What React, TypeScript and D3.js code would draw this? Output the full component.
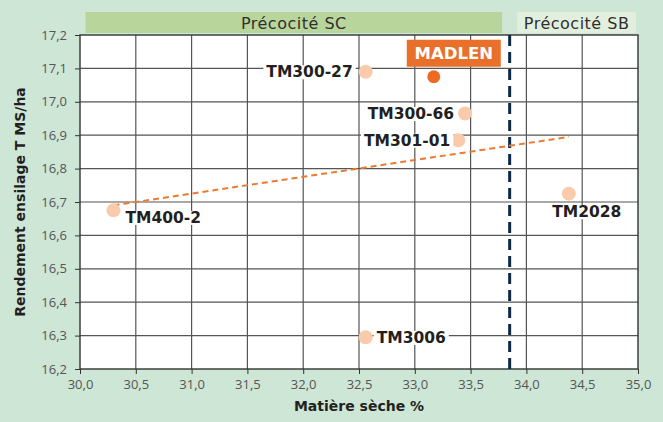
// Scatter of silage yield vs dry matter, with earliness bands and a trend line.
import { useEffect, useRef } from "react";
import * as d3 from "d3";

const varieties = ["TM300-27", "MADLEN", "TM300-66", "TM301-01", "TM400-2", "TM2028", "TM3006"];
const dryMatter = [32.56, 33.17, 33.45, 33.39, 30.3, 34.38, 32.56];
const yieldValues = [17.09, 17.075, 16.965, 16.885, 16.675, 16.725, 16.295];
const highlighted = ["MADLEN"];

const trendX = [30.3, 34.38];
const trendY = [16.69, 16.895];

const xTicks = [30.0, 30.5, 31.0, 31.5, 32.0, 32.5, 33.0, 33.5, 34.0, 34.5, 35.0];
const yTicks = [16.2, 16.3, 16.4, 16.5, 16.6, 16.7, 16.8, 16.9, 17.0, 17.1, 17.2];
const earlinessLimit = 33.85;
const bands = [
  { label: "Précocité SC", from: 30.05, to: 33.8 },
  { label: "Précocité SB", from: 33.9, to: 35.0 },
];

const W = 663;
const H = 422;
const FONT = "'Open Sans', 'DejaVu Sans', sans-serif";
const BOLD = "'DejaVu Sans', sans-serif";

export default function App() {
  const svgRef = useRef<SVGSVGElement>(null);

  useEffect(() => {
    const svg = d3.select(svgRef.current);
    svg.selectAll("*").remove();

    const x = d3.scaleLinear().domain([30, 35]).range([80, 638]);
    const y = d3.scaleLinear().domain([16.2, 17.2]).range([369, 35]);
    const fmt = (v: number) => v.toFixed(1).replace(".", ",");

    svg.append("rect").attr("width", W).attr("height", H).attr("fill", "#cde6d5");

    // earliness bands above the plot
    bands.forEach((b, i) => {
      const x0 = i === 0 ? x(b.from) : x(b.from) + 2;
      const x1 = x(b.to) - 2;
      svg.append("rect")
        .attr("x", x0).attr("y", 12).attr("width", x1 - x0).attr("height", 21)
        .attr("fill", i === 0 ? "#b8d59c" : "#e3efdd");
      svg.append("text")
        .attr("x", (x0 + x1) / 2).attr("y", 23).attr("dy", "0.35em")
        .attr("text-anchor", "middle").attr("font-family", BOLD).attr("font-size", 16)
        .attr("letter-spacing", 0.5).attr("fill", "#2f2f2f").text(b.label);
    });

    svg.append("rect")
      .attr("x", x(30)).attr("y", y(17.2))
      .attr("width", x(35) - x(30)).attr("height", y(16.2) - y(17.2))
      .attr("fill", "#fff");

    // grid
    const g = svg.append("g");
    g.selectAll(".gx").data(xTicks.slice(1, -1)).enter().append("line")
      .attr("x1", d => x(d)).attr("x2", d => x(d))
      .attr("y1", y(17.2)).attr("y2", y(16.2))
      .attr("stroke", "#555").attr("stroke-width", 1.2);
    g.selectAll(".gy").data(yTicks.slice(1, -1)).enter().append("line")
      .attr("x1", x(30)).attr("x2", x(35))
      .attr("y1", d => y(d)).attr("y2", d => y(d))
      .attr("stroke", "#555").attr("stroke-width", 1.2);
    g.append("rect")
      .attr("x", x(30)).attr("y", y(17.2))
      .attr("width", x(35) - x(30)).attr("height", y(16.2) - y(17.2))
      .attr("fill", "none").attr("stroke", "#333").attr("stroke-width", 1.4);

    // axes
    svg.append("g")
      .attr("transform", `translate(0,${y(16.2)})`)
      .call(d3.axisBottom(x).tickValues(xTicks).tickFormat(d => fmt(+d)).tickSize(5).tickPadding(6))
      .call(a => a.select(".domain").remove())
      .call(a => a.selectAll("line").attr("stroke", "#333"))
      .call(a => a.selectAll("text").attr("font-family", FONT).attr("font-size", 13).attr("fill", "#555"));
    svg.append("g")
      .attr("transform", `translate(${x(30)},0)`)
      .call(d3.axisLeft(y).tickValues(yTicks).tickFormat(d => fmt(+d)).tickSize(5).tickPadding(8))
      .call(a => a.select(".domain").remove())
      .call(a => a.selectAll("line").attr("stroke", "#333"))
      .call(a => a.selectAll("text").attr("font-family", FONT).attr("font-size", 13).attr("fill", "#555"));

    svg.append("text")
      .attr("x", (x(30) + x(35)) / 2).attr("y", 411)
      .attr("text-anchor", "middle").attr("font-family", BOLD).attr("font-weight", 700)
      .attr("font-size", 14).attr("fill", "#231f20").text("Matière sèche %");
    svg.append("text")
      .attr("transform", `translate(25,${(y(16.2) + y(17.2)) / 2}) rotate(-90)`)
      .attr("text-anchor", "middle").attr("font-family", BOLD).attr("font-weight", 700)
      .attr("font-size", 14).attr("fill", "#231f20").text("Rendement ensilage T MS/ha");

    // earliness limit
    svg.append("line")
      .attr("x1", x(earlinessLimit)).attr("x2", x(earlinessLimit))
      .attr("y1", y(17.2)).attr("y2", y(16.2))
      .attr("stroke", "#0d2a45").attr("stroke-width", 3)
      .attr("stroke-dasharray", "11,6");

    // trend line
    svg.append("line")
      .attr("x1", x(trendX[0])).attr("x2", x(trendX[1]))
      .attr("y1", y(trendY[0])).attr("y2", y(trendY[1]))
      .attr("stroke", "#ec7a30").attr("stroke-width", 2)
      .attr("stroke-dasharray", "6,4");

    const pts = varieties.map((name, i) => ({ name, dm: dryMatter[i], yv: yieldValues[i] }));

    svg.selectAll(".pt").data(pts).enter().append("circle")
      .attr("cx", d => x(d.dm)).attr("cy", d => y(d.yv)).attr("r", d => (highlighted.includes(d.name) ? 6.5 : 7))
      .attr("fill", d => (highlighted.includes(d.name) ? "#ec6a22" : "#f9cbab"));

    // labels: [dx, dy, anchor]
    const place: Record<string, [number, number, string]> = {
      "TM300-27": [-13, 0, "end"],
      "TM300-66": [-11, 0, "end"],
      "TM301-01": [-8, 0, "end"],
      "TM400-2": [12, 7, "start"],
      "TM2028": [18, 18, "middle"],
      "TM3006": [11, 0, "start"],
    };

    pts.forEach(d => {
      if (highlighted.includes(d.name)) {
        const cx = x(d.dm) + 20;
        const cy = y(d.yv) - 24;
        svg.append("rect").attr("x", cx - 47).attr("y", cy - 13).attr("width", 94).attr("height", 27)
          .attr("fill", "#e8702a");
        svg.append("text").attr("x", cx).attr("y", cy).attr("dy", "0.36em")
          .attr("text-anchor", "middle").attr("font-family", BOLD).attr("font-weight", 700)
          .attr("font-size", 16.5).attr("fill", "#fff").text(d.name);
        return;
      }
      const [dx, dy, anchor] = place[d.name];
      const t = svg.append("text")
        .attr("x", x(d.dm) + dx).attr("y", y(d.yv) + dy).attr("dy", "0.36em")
        .attr("text-anchor", anchor).attr("font-family", BOLD).attr("font-weight", 700)
        .attr("font-size", 15.5).attr("fill", "#231f20").text(d.name);
      const bb = (t.node() as SVGTextElement).getBBox();
      svg.insert("rect", () => t.node())
        .attr("x", bb.x - 3).attr("y", bb.y + 2).attr("width", bb.width + 6).attr("height", bb.height - 4)
        .attr("fill", "#fff");
    });
  }, []);

  return (
    <div style={{ position: "absolute", left: 0, top: 0 }}>
      <svg ref={svgRef} width={W} height={H} style={{ display: "block" }} />
    </div>
  );
}
